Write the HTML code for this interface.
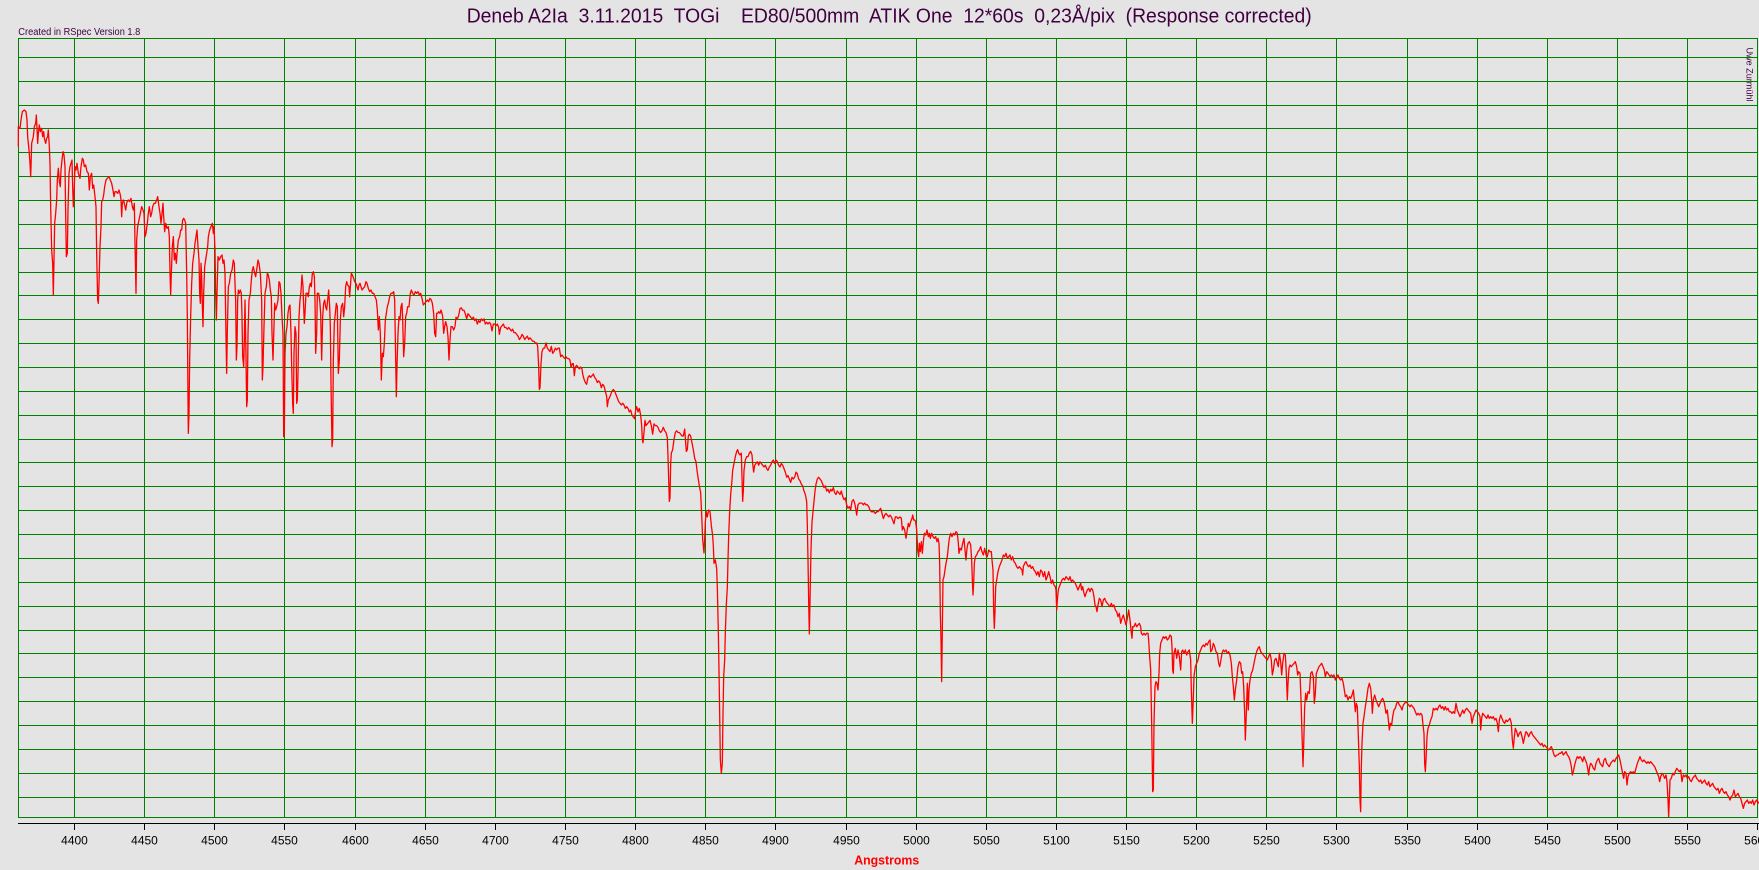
<!DOCTYPE html>
<html>
<head>
<meta charset="utf-8">
<style>
html,body{margin:0;padding:0;background:#e4e4e4;overflow:hidden;}
svg{display:block;}
text{font-family:"Liberation Sans",Arial,sans-serif;}
</style>
</head>
<body>
<svg width="1759" height="870" viewBox="0 0 1759 870" xmlns="http://www.w3.org/2000/svg">
<rect x="0" y="0" width="1759" height="870" fill="#e4e4e4"/>

<!-- Title -->
<text x="466.7" y="22.7" font-size="20" fill="#400040" xml:space="preserve" textLength="845" lengthAdjust="spacingAndGlyphs">Deneb A2Ia  3.11.2015  TOGi    ED80/500mm  ATIK One  12*60s  0,23Å/pix  (Response corrected)</text>
<text x="18.3" y="34.8" font-size="10" fill="#400040" textLength="122" lengthAdjust="spacingAndGlyphs">Created in RSpec Version 1.8</text>
<text transform="translate(1746.5,47.5) rotate(90)" font-size="9.5" fill="#400040" textLength="54" lengthAdjust="spacingAndGlyphs">Uwe Zurmühl</text>

<!-- Grid -->
<g stroke="#008000" stroke-width="1" shape-rendering="crispEdges" fill="none">
<path d="M18.5,38 V818 M74.5,38 V818 M144.5,38 V818 M214.5,38 V818 M284.5,38 V818 M355.5,38 V818 M425.5,38 V818 M495.5,38 V818 M565.5,38 V818 M635.5,38 V818 M705.5,38 V818 M775.5,38 V818 M846.5,38 V818 M916.5,38 V818 M986.5,38 V818 M1056.5,38 V818 M1126.5,38 V818 M1196.5,38 V818 M1266.5,38 V818 M1336.5,38 V818 M1407.5,38 V818 M1477.5,38 V818 M1547.5,38 V818 M1617.5,38 V818 M1687.5,38 V818 M1757.5,38 V818"/>
<path d="M18,38.5 H1758 M18,57.5 H1758 M18,81.5 H1758 M18,105.5 H1758 M18,128.5 H1758 M18,152.5 H1758 M18,176.5 H1758 M18,200.5 H1758 M18,224.5 H1758 M18,248.5 H1758 M18,272.5 H1758 M18,295.5 H1758 M18,319.5 H1758 M18,343.5 H1758 M18,367.5 H1758 M18,391.5 H1758 M18,415.5 H1758 M18,439.5 H1758 M18,462.5 H1758 M18,486.5 H1758 M18,510.5 H1758 M18,534.5 H1758 M18,558.5 H1758 M18,582.5 H1758 M18,606.5 H1758 M18,630.5 H1758 M18,653.5 H1758 M18,677.5 H1758 M18,701.5 H1758 M18,725.5 H1758 M18,749.5 H1758 M18,773.5 H1758 M18,797.5 H1758 M18,817.5 H1758"/>
</g>

<!-- X axis -->
<g stroke="#000" stroke-width="1" shape-rendering="crispEdges" fill="none">
<path d="M18,823.5 H1759"/>
<path d="M74.5,823 V830 M144.5,823 V830 M214.5,823 V830 M284.5,823 V830 M355.5,823 V830 M425.5,823 V830 M495.5,823 V830 M565.5,823 V830 M635.5,823 V830 M705.5,823 V830 M775.5,823 V830 M846.5,823 V830 M916.5,823 V830 M986.5,823 V830 M1056.5,823 V830 M1126.5,823 V830 M1196.5,823 V830 M1266.5,823 V830 M1336.5,823 V830 M1407.5,823 V830 M1477.5,823 V830 M1547.5,823 V830 M1617.5,823 V830 M1687.5,823 V830 M1757.5,823 V830"/>
</g>
<g font-size="12" fill="#000" text-anchor="middle">
<text x="74.5" y="844.3">4400</text>
<text x="144.5" y="844.3">4450</text>
<text x="214.5" y="844.3">4500</text>
<text x="284.5" y="844.3">4550</text>
<text x="355.5" y="844.3">4600</text>
<text x="425.5" y="844.3">4650</text>
<text x="495.5" y="844.3">4700</text>
<text x="565.5" y="844.3">4750</text>
<text x="635.5" y="844.3">4800</text>
<text x="705.5" y="844.3">4850</text>
<text x="775.5" y="844.3">4900</text>
<text x="846.5" y="844.3">4950</text>
<text x="916.5" y="844.3">5000</text>
<text x="986.5" y="844.3">5050</text>
<text x="1056.5" y="844.3">5100</text>
<text x="1126.5" y="844.3">5150</text>
<text x="1196.5" y="844.3">5200</text>
<text x="1266.5" y="844.3">5250</text>
<text x="1336.5" y="844.3">5300</text>
<text x="1407.5" y="844.3">5350</text>
<text x="1477.5" y="844.3">5400</text>
<text x="1547.5" y="844.3">5450</text>
<text x="1617.5" y="844.3">5500</text>
<text x="1687.5" y="844.3">5550</text>
<text x="1757.5" y="844.3">5600</text>
</g>
<text x="854.2" y="864.3" font-size="12.5" font-weight="bold" fill="#ff0000" textLength="65" lengthAdjust="spacingAndGlyphs">Angstroms</text>

<!-- Spectrum -->
<g fill="none" stroke="#ff0000" stroke-width="1.3" stroke-linejoin="round">
<g transform="translate(15 100) scale(0.333333)">
<polyline vector-effect="non-scaling-stroke" points="10,140 10,80 15,85 18,60 22,35 28,30 33,35 36,60 38,110 42,150 45,190 47,230 48,200 50,130 55,110 58,80 62,70 64,45 66,85 68,130 70,100 73,75 76,95 80,85 83,110 86,95 88,115 92,130 95,115 98,110 100,90 103,140 105,190 107,320 110,450 113,490 115,585 117,480 119,370 122,340 125,300 127,240 130,205 133,245 136,260 138,210 141,180 144,155 147,165 150,200 152,340 154,470 157,460 159,330 162,220 165,200 168,190 171,180 173,260 175,320 178,260 180,200 183,210 186,190 190,220 195,235 198,200 202,175 205,180 208,200 212,195 216,215 220,220 223,270 226,230 230,220 233,265 236,255 240,290 243,320 245,460 248,600 250,610 252,550 255,440 258,380 260,305 263,300 266,285 269,260 273,240 277,235 282,230 286,240 290,250 294,270 297,290 300,275 304,275 308,280 312,270 316,285 318,300 320,350 322,310 325,300 328,310 332,330 336,305 340,300 344,305 348,295 352,320 355,330 358,310 360,430 363,580 365,420 368,380 372,360 376,340 380,320 384,330 387,340 390,410 393,400 397,370 400,340 403,320 407,350 410,340 413,320 417,310 421,310 425,300 428,290 432,320 435,340 438,370 441,340 444,310 446,350 449,395 452,370 456,385 460,380 463,410 465,520 467,585 469,520 472,440 475,410 478,480 481,460 484,490 487,450 490,420 494,410 497,390 500,390 503,360 506,355 509,360 512,370 515,520 517,650 519,900 520,1000 522,940 524,780 527,650 530,550 533,490 537,460 540,430 543,410 546,390 549,440 552,480 554,580 556,610 558,490 560,530 562,620 564,680 566,580 569,500 572,480 575,460 578,440 580,410 584,390 588,380 592,370 595,400 597,380 600,450 602,580 604,660 606,580 609,470 613,480 617,470 621,465 624,490 627,480 630,520 633,710 635,820 637,690 640,560 643,550 647,520 651,510 655,480 658,490 660,550 662,600 664,780 666,740 668,600 670,570 673,580 676,570 679,580 681,650 683,770 686,800 688,720 690,600 693,770 695,920 697,900 699,700 702,600 706,580 709,540 712,510 715,500 718,515 722,530 725,510 729,480 732,490 736,520 740,600 742,840 744,800 747,680 750,580 754,560 757,520 760,525 763,540 766,570 769,590 771,700 774,780 776,710 779,610 782,630 785,620 789,600 792,545 795,550 798,580 801,650 804,700 806,1010 808,1000 810,760 813,700 816,680 819,640 822,620 825,615 828,700 830,800 833,910 835,940 837,760 840,680 843,700 845,910 847,900 849,820 852,650 855,600 858,575 861,525 864,560 866,620 868,670 870,640 873,580 877,580 880,590 883,560 886,550 889,560 892,520 895,515 898,530 900,600 902,760 905,700 907,580 911,580 914,600 917,640 920,780 923,650 926,610 929,600 932,620 935,630 938,600 941,570 944,620 946,680 948,850 951,1040 953,1020 955,780 958,670 961,640 964,610 967,620 970,820 973,780 976,660 979,620 983,610 986,650 989,620 992,560 995,545 998,555 1002,560 1004,590 1006,560 1009,520 1012,525 1016,535 1019,545 1023,550 1026,560 1029,570 1032,555 1035,550 1038,560 1041,570 1045,565 1049,560 1053,545 1056,550 1060,565 1064,575 1068,570 1072,580 1076,580 1080,590 1084,600 1087,630 1090,690 1093,650 1096,700 1099,840 1102,760 1105,770 1108,730 1111,660 1114,640 1117,620 1120,610 1124,590 1128,580 1132,580 1136,575 1139,600 1141,720 1144,890 1146,800 1149,700 1152,650 1155,660 1158,620 1161,610 1163,660 1166,770 1169,730 1172,650 1175,640 1178,620 1182,620 1186,580 1189,570 1193,580 1197,585 1201,575 1205,580 1209,575 1213,585 1217,580 1221,595 1225,615 1229,610 1233,605 1237,600 1241,605 1245,595 1249,600 1252,610 1256,640 1259,700 1262,710 1265,640 1268,640 1271,635 1275,640 1278,630 1281,640 1283,650 1286,700 1289,680 1292,665 1296,680 1299,710 1302,780 1305,720 1308,680 1312,680 1316,690 1320,680"/>
</g>
<g transform="translate(440 250) scale(0.333333 0.34435)">
<polyline vector-effect="non-scaling-stroke" points="45,222 48,195 52,200 56,190 60,170 64,168 68,175 72,175 76,185 80,200 84,185 88,190 92,195 96,200 100,195 104,205 108,200 112,215 116,205 120,210 124,200 128,205 132,200 136,215 140,210 144,215 148,210 152,215 156,235 160,215 164,215 168,220 172,215 176,225 178,245 182,225 186,220 190,215 194,225 198,225 202,230 206,225 210,230 214,235 218,230 222,240 226,240 230,245 234,250 238,260 242,255 246,245 250,250 254,260 258,255 262,250 266,260 270,255 274,260 278,265 282,265 286,270 290,270 293,280 296,340 298,405 300,400 303,330 306,295 310,285 314,285 318,270 322,285 326,290 330,295 334,280 338,300 342,295 346,285 350,290 354,285 358,285 362,310 366,305 370,310 374,315 378,310 382,315 386,315 390,320 393,340 397,330 400,330 403,365 406,340 410,335 414,340 418,345 422,340 426,345 428,360 432,375 436,385 440,390 444,370 448,365 452,370 456,365 460,360 464,370 468,375 472,385 476,380 480,385 484,400 488,390 492,395 496,410 500,425 502,455 505,435 508,430 512,420 516,410 520,405 524,410 528,420 532,430 536,440 540,445 544,450 548,445 552,450 556,460 560,455 564,460 568,470 572,465 576,480 580,485 584,490 587,465 590,455 594,470 598,460 602,480 605,510 607,550 609,560 612,530 615,495 618,510 622,505 626,500 630,495 634,510 638,535 642,505 646,510 650,510 654,515 658,525 662,530 666,525 670,515 674,525 678,530 682,545 684,600 686,665 688,730 690,720 692,620 694,590 698,580 702,550 706,530 710,525 714,530 718,530 722,535 726,540 730,540 734,520 737,560 739,585 742,580 745,540 748,535 752,540 756,560 760,580 764,605 768,615 771,640 774,660 778,685 782,705 785,770 788,840 790,860 792,880 794,840 796,790 799,760 802,775 806,755 810,760 814,800 818,830 820,860 822,910 826,900 830,925 832,980 835,1110 838,1280 841,1480 844,1520 847,1490 849,1350 851,1240 854,1190 856,1110 859,1030 862,980 864,900 866,830 869,760 872,710 875,680 878,640 882,620 886,600 890,585 893,580 896,590 900,595 904,590 906,660 908,730 910,700 912,640 916,610 920,600 924,600 928,590 932,585 936,595 938,620 941,645 944,625 948,620 952,615 956,625 960,615 964,620 968,625 972,630 976,625 980,635 984,640 988,630 992,625 996,615 1000,610 1004,620 1008,610 1012,615 1016,625 1020,630 1024,620 1028,625 1032,635 1036,645 1040,660 1044,655 1048,665 1052,675 1056,660 1060,665 1064,660 1068,645 1072,650 1076,665 1080,670 1084,680 1088,685 1092,700 1096,710 1100,730 1102,800 1104,900 1106,1020 1108,1115 1110,1020 1113,870 1116,790 1119,760 1122,730 1125,700 1128,680 1132,665 1136,660 1140,665 1144,670 1148,680 1152,690 1156,685 1160,700 1164,695 1168,705 1172,695 1176,700 1180,690 1184,705 1188,710 1192,700 1196,705 1200,710 1204,700 1208,715 1212,725 1216,720 1220,740 1224,750 1228,745 1232,755 1236,730 1240,725 1244,735 1248,755 1250,770 1254,740 1258,735 1262,735 1266,735 1270,740 1274,735 1278,740 1282,740 1286,745 1290,755 1294,760 1298,760 1302,760 1306,765 1310,760 1314,760 1318,755 1322,750 1326,765 1330,780 1334,770 1338,765 1342,770 1346,775 1350,770 1354,775 1358,785 1362,795 1366,775 1370,775 1374,780 1380,775"/>
</g>
<g transform="translate(890 480) scale(0.333333)">
<polyline vector-effect="non-scaling-stroke" points="30,110 34,115 37,150 40,140 44,150 48,175 51,155 55,130 58,140 62,125 66,115 68,105 71,120 74,120 77,125 80,150 83,210 86,230 88,190 91,215 94,185 97,220 100,185 103,160 107,165 111,150 115,170 118,160 121,175 125,160 129,170 133,175 137,170 141,185 144,175 147,190 149,250 151,400 153,480 155,605 157,450 159,300 162,290 165,270 168,250 172,230 175,200 178,175 182,160 186,170 190,160 194,165 198,155 202,160 205,190 207,220 210,205 214,210 218,190 222,175 225,210 228,240 231,205 234,190 238,185 242,195 245,240 247,300 249,345 251,310 253,250 256,230 260,225 264,215 268,210 272,200 276,215 280,225 284,205 288,225 292,230 296,210 300,215 304,215 306,240 309,270 311,390 313,445 315,395 317,320 320,300 324,275 328,260 332,250 336,240 340,225 344,230 348,220 352,235 356,230 360,225 364,240 368,230 372,245 376,250 380,260 384,265 388,260 392,265 396,270 398,285 400,260 404,250 408,245 412,255 416,260 420,255 424,265 428,260 432,270 436,275 440,285 444,275 448,290 452,270 456,275 460,290 464,275 468,300 472,290 476,275 480,290 484,310 488,300 492,315 496,320 498,330 500,390 502,360 505,330 508,320 512,310 516,300 520,295 524,300 528,290 532,295 536,300 540,290 544,305 548,300 552,305 556,310 560,320 564,330 568,320 572,310 575,330 578,320 582,340 585,350 588,340 592,330 596,325 600,335 604,325 608,330 612,350 615,375 618,380 621,395 624,375 628,355 632,360 636,380 640,360 644,355 648,365 652,370 656,375 660,380 664,370 668,380 672,375 676,390 680,395 684,410 688,400 692,430 696,415 700,405 704,420 708,435 712,415 716,390 720,420 723,450 726,475 728,440 732,440 736,430 740,440 744,435 748,430 752,440 754,460 758,465 762,460 766,465 770,460 774,460 776,480 779,530 782,570 785,730 788,935 790,930 792,730 795,620 798,605 801,610 804,630 807,580 809,520 812,490 816,480 820,470 824,475 828,470 832,480 836,475 840,465 844,470 846,500 848,570 850,580 852,520 856,505 860,535 864,510 868,530 872,570 875,515 878,510 882,520 886,510 890,525 894,515 898,510 902,540 904,630 907,730 909,680 912,590 916,560 920,550 924,540 928,520 932,510 936,500 940,495 944,500 948,490 952,495 956,485 960,480 962,515 966,510 970,490 974,500 978,515 982,520 986,550 989,560 992,545 996,520 1000,510 1004,515 1008,510 1012,520 1016,515 1020,525 1024,550 1027,590 1030,620 1033,660 1036,630 1040,600 1044,560 1048,545 1052,550 1055,580 1058,575 1061,620 1064,700 1066,780 1069,700 1072,610 1075,690 1077,630 1080,600 1084,580 1088,570 1092,550 1096,530 1100,515 1104,505 1108,500 1112,515 1116,520 1120,525 1124,530 1128,535 1132,540 1136,530 1140,520 1144,540 1147,585 1150,570 1154,540 1158,535 1162,550 1165,560 1168,520 1172,545 1175,585 1178,550 1182,520 1186,525 1189,580 1192,660 1194,610 1197,565 1200,555 1204,560 1208,555 1212,550 1216,545 1220,560 1223,585 1226,575 1230,580 1233,660 1236,760 1239,860 1241,800 1244,680 1247,640 1250,660 1254,635 1258,640 1262,580 1266,575 1270,590 1273,670 1276,640 1279,580 1283,570 1287,560 1291,555 1295,550 1299,560 1303,570 1306,590 1310,575 1314,580 1320,590"/>
</g>
<g transform="translate(1320 600) scale(0.333333)">
<polyline vector-effect="non-scaling-stroke" points="30,230 34,225 38,230 42,225 46,240 50,230 54,225 58,235 62,240 66,235 70,250 73,270 76,290 80,285 84,300 88,290 92,295 96,285 100,270 103,300 106,335 109,310 112,320 115,410 118,500 120,600 122,635 124,500 126,430 129,370 132,350 136,320 140,295 144,265 148,250 152,265 155,300 157,340 160,300 164,285 168,300 172,310 176,320 180,310 184,300 188,295 192,305 195,320 198,340 202,330 205,360 208,390 211,370 215,375 218,350 222,330 226,325 230,310 234,305 238,315 242,320 246,330 250,315 254,310 258,305 262,310 266,315 270,320 274,315 278,320 282,325 286,335 290,345 294,340 298,345 302,340 306,345 309,375 312,400 314,490 316,515 318,480 321,410 324,385 328,375 332,360 336,350 340,325 344,330 348,325 352,330 356,320 360,315 364,325 368,320 372,330 376,320 380,330 384,325 388,335 392,335 396,340 400,335 404,340 408,310 412,330 416,340 420,350 424,340 428,330 432,340 436,330 440,325 444,330 448,335 452,340 456,370 460,350 464,340 468,330 472,335 476,340 480,350 482,390 485,355 488,340 492,345 496,350 500,355 504,345 508,355 512,350 516,355 520,350 524,360 528,355 532,370 535,395 538,360 542,345 546,355 550,365 554,370 558,360 562,365 566,360 570,355 574,370 577,420 580,445 583,410 586,385 590,395 594,410 598,400 602,395 606,410 610,430 614,410 618,395 622,400 626,410 630,400 634,395 638,405 642,410 646,415 650,420 654,425 658,430 662,435 666,430 670,440 674,435 678,440 682,445 686,450 690,445 694,440 698,450 702,465 706,470 710,465 714,465 718,460 722,460 726,455 730,465 734,460 738,455 742,465 746,470 750,480 754,500 757,525 760,515 764,495 768,480 772,470 776,475 780,470 784,475 788,485 792,470 796,480 800,490 803,505 806,525 809,500 812,490 816,495 820,505 824,510 828,490 832,480 836,475 840,490 844,495 848,500 852,480 856,475 860,490 864,495 868,500 872,490 876,485 880,480 884,485 888,475 892,470 896,465 900,480 904,500 908,520 911,535 914,515 918,520 921,555 924,530 928,520 932,515 936,520 940,515 944,520 948,505 952,490 956,480 960,470 964,480 968,485 972,480 976,485 980,490 984,485 988,490 992,485 996,490 1000,495 1004,500 1008,510 1012,520 1016,530 1019,545 1022,530 1026,520 1030,525 1034,535 1038,525 1041,545 1044,600 1046,650 1048,600 1050,540 1054,535 1058,520 1062,525 1066,515 1070,505 1074,510 1078,515 1082,510 1086,545 1090,525 1094,530 1098,525 1102,535 1106,530 1110,540 1114,545 1118,535 1122,530 1126,525 1130,535 1134,540 1138,545 1142,540 1146,550 1150,545 1154,540 1158,550 1162,555 1166,545 1170,560 1174,555 1178,550 1182,560 1186,565 1190,570 1194,565 1198,580 1202,570 1206,565 1210,575 1214,580 1218,575 1222,585 1226,590 1230,600 1234,590 1238,585 1242,570 1246,590 1250,585 1254,580 1258,590 1262,595 1266,610 1270,625 1274,610 1278,605 1282,600 1286,610 1290,605 1294,610 1298,600 1302,615 1306,605 1310,600 1314,610 1317,605"/>
</g>
</g>
</svg>
</body>
</html>
